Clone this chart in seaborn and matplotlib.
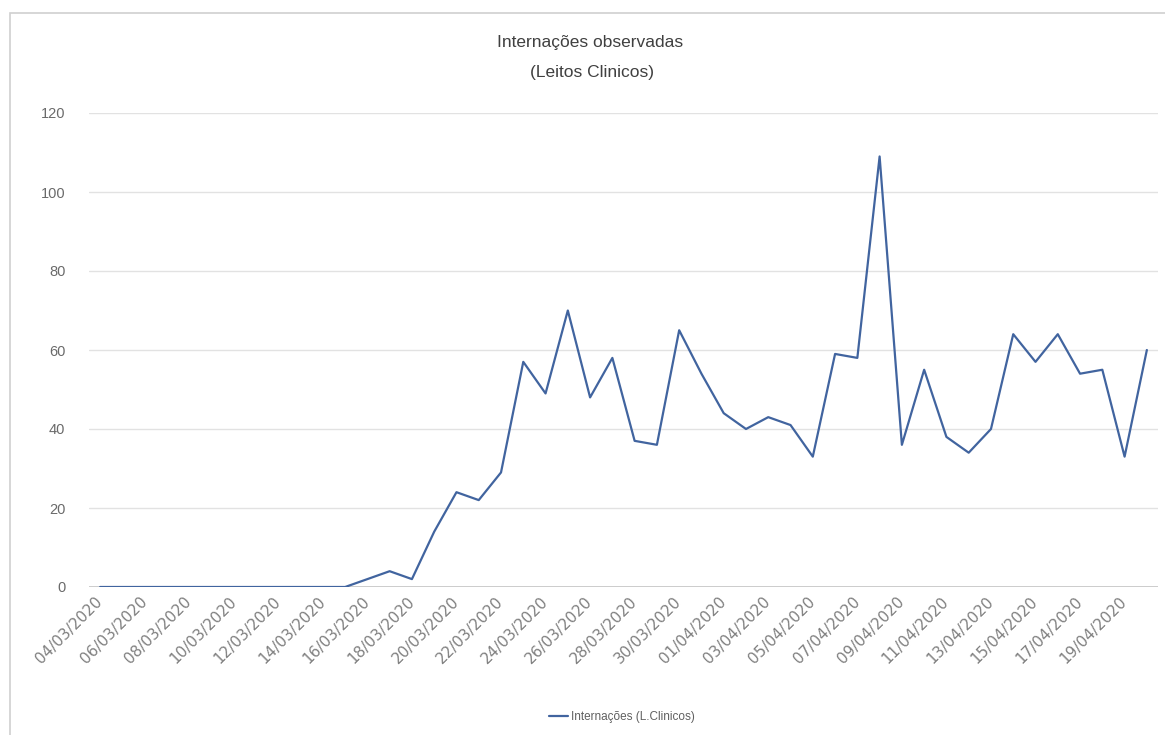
import matplotlib
matplotlib.use("Agg")
import matplotlib.pyplot as plt
import seaborn as sns
import pandas as pd
from matplotlib.patches import Rectangle

# Daily clinical-bed admissions, 04/03/2020 .. 20/04/2020
dates = pd.date_range("2020-03-04", "2020-04-20", freq="D")
internacoes = [0, 0, 0, 0, 0, 0, 0, 0, 0, 0, 0, 0,
               2, 4, 2, 14, 24, 22, 29, 57, 49, 70, 48, 58,
               37, 36, 65, 54, 44, 40, 43, 41, 33, 59, 58, 109,
               36, 55, 38, 34, 40, 64, 57, 64, 54, 55, 33, 60]
y_ticks = [0, 20, 40, 60, 80, 100, 120]
title_lines = ["Internações observadas", "(Leitos Clinicos)"]
series_label = "Internações (L.Clinicos)"

df = pd.DataFrame({"pos": range(len(dates)),
                   "data": dates.strftime("%d/%m/%Y"),
                   "valor": internacoes})

sns.set_style("white")
plt.rcParams["font.family"] = ["Liberation Sans", "DejaVu Sans"]

W, H = 1165, 735
fig = plt.figure(figsize=(W / 100, H / 100), dpi=100)
fig.patch.set_facecolor("white")

# thin frame around the chart area
fig.patches.append(Rectangle((10 / W, -0.05), 1.2, 1 - 13 / H + 0.05,
                             transform=fig.transFigure, fill=False,
                             edgecolor="#d0d0d0", linewidth=1.2))

ax = fig.add_axes([89 / W, 148 / H, (1158 - 89) / W, (587 - 113) / H])
ax.set_facecolor("white")

line_color = "#41649f"
sns.lineplot(data=df, x="pos", y="valor", ax=ax, color=line_color,
             linewidth=1.6, label=series_label, legend=False)

ax.set_xlim(-0.5, len(dates) - 0.5)
ax.set_ylim(0, 120)
ax.set_yticks(y_ticks)
ax.set_yticklabels([str(v) for v in y_ticks])
for v in y_ticks[1:]:
    ax.axhline(v, color="#e2e2e2", linewidth=1.0, zorder=0)
ax.axhline(0, color="#c8c8c8", linewidth=1.3, zorder=1)

tick_pos = list(range(0, len(dates), 2))
ax.set_xticks(tick_pos)
ax.set_xticklabels(df["data"].iloc[tick_pos], rotation=45, ha="right",
                   va="center", rotation_mode="anchor",
                   fontfamily=["DejaVu Sans"], fontsize=11, color="#808080")

ax.tick_params(axis="both", length=0)
ax.tick_params(axis="y", pad=17, labelsize=10.5, colors="#6a6a6a")
ax.tick_params(axis="x", pad=9)
for s in ax.spines.values():
    s.set_visible(False)
ax.set_xlabel("")
ax.set_ylabel("")

fig.text(590 / W, 1 - 43 / H, title_lines[0], ha="center", va="center",
         fontsize=12.5, color="#404040")
fig.text(592 / W, 1 - 72 / H, title_lines[1], ha="center", va="center",
         fontsize=12.5, color="#404040")

handles, labels = ax.get_legend_handles_labels()
fig.legend(handles, labels, loc="center", bbox_to_anchor=(622 / W, 1 - 717 / H),
           frameon=False, fontsize=8.5, labelcolor="#606060",
           handlelength=1.6, handletextpad=0.2)

fig.savefig("out.png", dpi=100, facecolor="white")
